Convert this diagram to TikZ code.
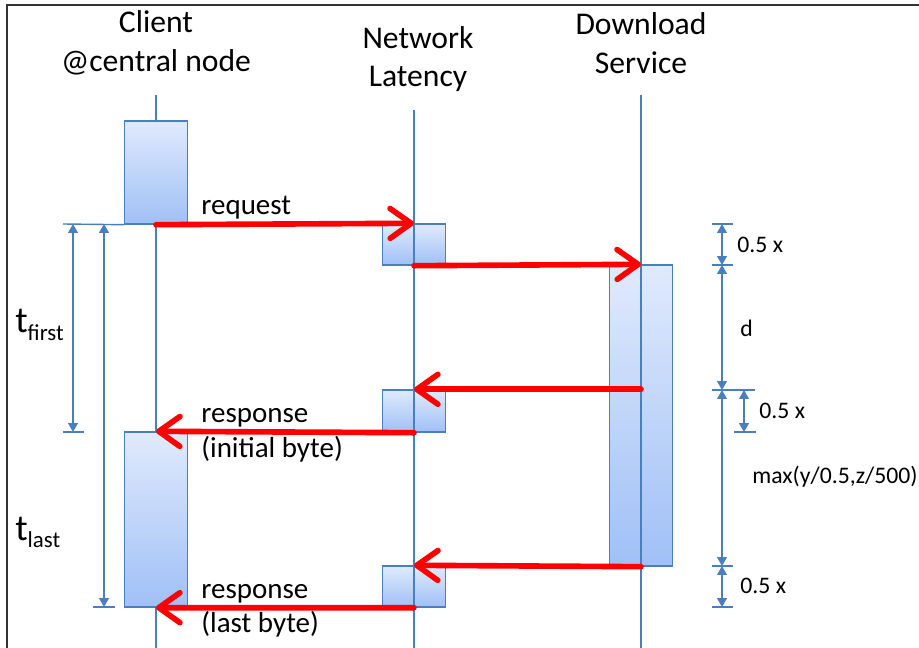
\documentclass[tikz,border=0pt]{standalone}
\usepackage{fontspec}
\setmainfont{Carlito}
\usepackage{xcolor}
\definecolor{lineblue}{RGB}{74,126,188}
\definecolor{boxtop}{RGB}{224,234,252}
\definecolor{boxbot}{RGB}{160,192,246}
\usetikzlibrary{arrows.meta,positioning}
\newcommand{\msg}[2]{\draw[msgarrow] (#1) -- (#2)}
\newcommand{\dimm}[2]{\draw[dimline] (#1) -- (#2)}

\begin{document}
\begin{tikzpicture}[
      x=0.02cm,y=-0.02cm,
      lifeline/.style={draw=lineblue,line width=0.7pt},
      actbox/.style={rectangle,draw=lineblue,line width=0.8pt,top color=boxtop,bottom color=boxbot,minimum width=1.25cm,inner sep=0pt},
      msgarrow/.style={draw=red,line width=3.2pt,line cap=round,-{Straight Barb[length=12pt,width=17pt,round]}},
      dimline/.style={draw=lineblue,line width=0.8pt,{Triangle[length=5pt,width=5.5pt]}-{Triangle[length=5pt,width=5.5pt]}},
      dimtick/.style={draw=lineblue,line width=0.8pt},
      header/.style={font=\fontsize{18}{22}\selectfont,align=center},
      msglabel/.style={font=\fontsize{16.5}{19}\selectfont,anchor=base west,inner sep=0pt},
      dimlabel/.style={font=\fontsize{13.5}{16}\selectfont,anchor=west,inner sep=0pt},
      tlabel/.style={font=\fontsize{21}{25}\selectfont,anchor=base west,inner sep=0pt}]

      \useasboundingbox (0,0) rectangle (919,648);
      \draw[black!80,line width=1.2pt] (7,648) -- (7,5) -- (919,5);

      % Define nodes
      \node[header] (client) at (156,43) {Client\\@central node};
      \node[header] (net) at (418,59) {Network\\Latency};
      \node[header] (dl) at (641,43) {Download\\Service};

      \coordinate (cTop) at (156,95);
      \coordinate (nTop) at (414,110);
      \coordinate (dTop) at (641,95);
      \coordinate (cBot) at (156,648);
      \coordinate (nBot) at (414,648);
      \coordinate (dBot) at (641,648);

      \node[actbox,minimum height=0.82cm] (nbA) at (414,244.5) {};
      \node[actbox,minimum height=0.84cm] (nbB) at (414,411) {};
      \node[actbox,minimum height=0.82cm] (nbC) at (414,586.5) {};
      \node[actbox,minimum height=6.02cm] (dbA) at (641,415.5) {};

      % Draw lifelines
      \draw[lifeline] (cTop) -- (cBot);
      \draw[lifeline] (nTop) -- (nBot);
      \draw[lifeline] (dTop) -- (dBot);

      \node[actbox,minimum height=2.06cm] (cbA) at (156,172.5) {};
      \node[actbox,minimum height=3.5cm] (cbB) at (156,519.5) {};

      % Draw messages
      \msg{cbA.south}{nbA.north};
      \msg{nbA.south}{dbA.north};
      \msg{nbB.north -| dbA.north}{nbB.north};
      \msg{nbB.south}{cbB.north};
      \msg{dbA.south}{nbC.north};
      \msg{nbC.south}{cbB.south};

      \node[msglabel] (lreq) at (201,215) {request};
      \node[msglabel] (lrespA) at (201,422) {response};
      \node[msglabel] (linit) at (201,457) {(initial byte)};
      \node[msglabel] (lrespB) at (201,598) {response};
      \node[msglabel] (llast) at (201,632) {(last byte)};

      % Left dimensions
      \coordinate (la0) at (73,224);
      \coordinate (la1) at (73,432);
      \coordinate (lb0) at (104,224);
      \coordinate (lb1) at (104,607);
      \draw[dimtick] (la0) ++(-10,0) -- (cbA.south west);
      \draw[dimtick] (la1) ++(-10,0) -- ++(21,0);
      \draw[dimtick] (lb1) ++(-11,0) -- ++(22,0);
      \dimm{la0}{la1};
      \dimm{lb0}{lb1};
      \node[tlabel] (tfirst) at (15,333) {t\raisebox{-4pt}{\fontsize{13}{15}\selectfont first}};
      \node[tlabel] (tlast) at (15,540) {t\raisebox{-4pt}{\fontsize{13}{15}\selectfont last}};

      % Right dimensions
      \coordinate (r0) at (722,224);
      \coordinate (r1) at (722,265);
      \coordinate (r2) at (722,390);
      \coordinate (r3) at (722,566);
      \coordinate (r4) at (722,607);
      \coordinate (s0) at (744,390);
      \coordinate (s1) at (744,432);
      \foreach \p in {r0,r1,r3,r4}
        \draw[dimtick] (\p) ++(-10,0) -- ++(21,0);
      \draw[dimtick] (r2) ++(-10,0) -- ++(43,0);
      \draw[dimtick] (s1) ++(-10,0) -- ++(22,0);
      \dimm{r0}{r1};
      \dimm{r1}{r2};
      \dimm{r2}{r3};
      \dimm{r3}{r4};
      \dimm{s0}{s1};

      \node[dimlabel] (dxA) at (737,245) {0.5 x};
      \node[dimlabel] (dd) at (740,328) {d};
      \node[dimlabel] (dxB) at (759,411) {0.5 x};
      \node[dimlabel] (dmax) at (752,477) {max(y/0.5,z/500)};
      \node[dimlabel] (dxC) at (740,586) {0.5 x};

  \end{tikzpicture}
\end{document}
